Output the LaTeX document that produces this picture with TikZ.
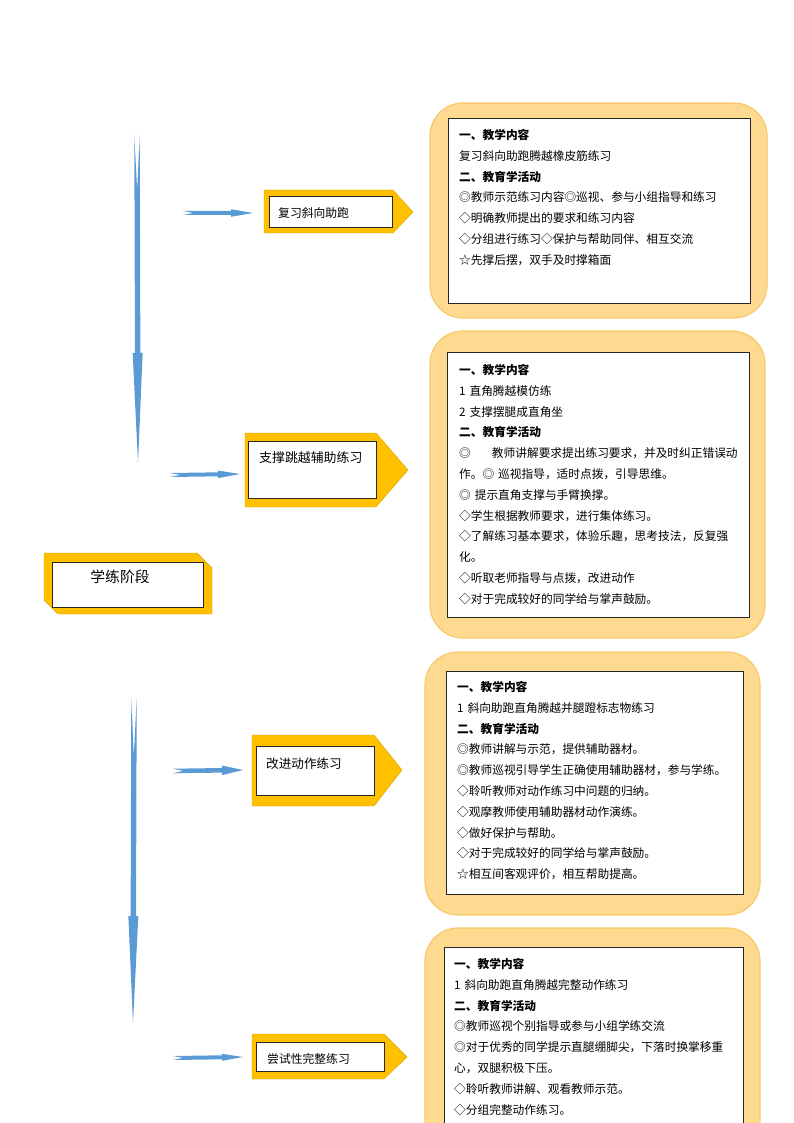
\documentclass[tikz,border=0pt]{standalone}
\usepackage{fontspec}
\setmainfont{Noto Sans CJK SC}
\usetikzlibrary{calc}

\definecolor{arrowblue}{HTML}{5B9BD5}
\definecolor{gold}{HTML}{FFC000}
\definecolor{paleorange}{HTML}{FDDA90}
\definecolor{orangeedge}{HTML}{F8C86A}

\newcommand\slimarrow[6]{%
  \coordinate (#1-h) at ($(#2)!#5!(#1)$);
  \fill[arrowblue] ($(#1)!#6!(#2)$) -- ($(#1)!#3!90:(#2)$) -- ($(#1-h)!#3!90:(#2)$)
    -- ($(#1-h)!#4!90:(#2)$) -- (#2) -- ($(#1-h)!#4!-90:(#2)$)
    -- ($(#1-h)!#3!-90:(#2)$) -- ($(#1)!#3!-90:(#2)$) -- cycle;
}

\begin{document}
\begin{tikzpicture}[x=1pt,y=-1pt,
  roundbox/.style={draw=orangeedge,line width=1.2pt,fill=paleorange,rounded corners=33pt,inner sep=0},
  whitebox/.style={draw=black!85,line width=0.8pt,fill=white,inner sep=0},
  goldshape/.style={fill=gold,draw=gold!85!black,line width=0.4pt},
  bodytext/.style={anchor=base west,text width=300pt,align=left,inner sep=0,font=\fontsize{11.7}{20.8}\selectfont},
  labeltext/.style={anchor=west,inner sep=0}]
 \useasboundingbox (0,0) rectangle (794,1123);
 \clip (0,0) rectangle (794,1123);

 \coordinate (v1a) at (137,135);
 \coordinate (v1b) at (138,463);
 \coordinate (v2a) at (134,697);
 \coordinate (v2b) at (133,1023);
 \slimarrow{v1a}{v1b}{2.7pt}{5pt}{110pt}{55pt}
 \slimarrow{v2a}{v2b}{2.7pt}{5pt}{107pt}{60pt}

 \draw[goldshape](44,553)--(197,553)--(212,568)--(212,614)--(58,614)--(44,600)--cycle;
 \node[whitebox,minimum width=151pt,minimum height=45pt] (stagebox) at (127.5,584.5) {};
 \node[inner sep=0,font=\fontsize{14.8}{16}\selectfont] (stage) at (120,577) {学练阶段};

 \coordinate (h1a) at (183,213);
 \coordinate (h1b) at (253,213);
 \coordinate (h2a) at (170,475);
 \coordinate (h2b) at (240,474);
 \coordinate (h3a) at (173,771);
 \coordinate (h3b) at (243,770);
 \coordinate (h4a) at (173,1058);
 \coordinate (h4b) at (243,1057);
 \slimarrow{h1a}{h1b}{2pt}{3.8pt}{22pt}{10pt}
 \slimarrow{h2a}{h2b}{2pt}{3.8pt}{22pt}{10pt}
 \slimarrow{h3a}{h3b}{2.3pt}{4.8pt}{21pt}{10pt}
 \slimarrow{h4a}{h4b}{2pt}{3.5pt}{21pt}{10pt}

 \draw[goldshape](264,190)--(393,190)--(413,212)--(393,233)--(264,233)--cycle;
 \node[whitebox,minimum width=123pt,minimum height=31pt] (step1) at (330.5,211.5) {};
 \node[labeltext,font=\fontsize{11.8}{14}\selectfont] (step1txt) at (278,213) {复习斜向助跑};

 \draw[goldshape](245,433)--(376,433)--(408,470)--(376,507)--(245,507)--cycle;
 \node[whitebox,minimum width=128pt,minimum height=57pt] (step2) at (312,469.5) {};
 \node[labeltext,font=\fontsize{12.9}{15}\selectfont] (step2txt) at (259,458) {支撑跳越辅助练习};

 \draw[goldshape](252,735)--(374,735)--(402,770)--(374,806)--(252,806)--cycle;
 \node[whitebox,minimum width=118pt,minimum height=49pt] (step3) at (315,770.5) {};
 \node[labeltext,font=\fontsize{12.6}{15}\selectfont] (step3txt) at (266,764) {改进动作练习};

 \draw[goldshape](252,1034)--(384,1034)--(407,1057)--(384,1079)--(252,1079)--cycle;
 \node[whitebox,minimum width=128pt,minimum height=29pt] (step4) at (320,1056.5) {};
 \node[labeltext,font=\fontsize{11.8}{14}\selectfont] (step4txt) at (267,1059) {尝试性完整练习};

 \node[roundbox,minimum width=337pt,minimum height=215pt] (r1) at (598.5,210.5) {};
 \node[whitebox,minimum width=302pt,minimum height=185pt] (r1in) at (599,210.5) {};
 \node[bodytext] (r1txt) at (459,139.5) {{\bfseries 一、教学内容}\\复习斜向助跑腾越橡皮筋练习\\{\bfseries 二、教育学活动}\\◎教师示范练习内容◎巡视、参与小组指导和练习\\◇明确教师提出的要求和练习内容\\◇分组进行练习◇保护与帮助同伴、相互交流\\☆先撑后摆，双手及时撑箱面};

 \node[roundbox,minimum width=335pt,minimum height=307pt] (r2) at (597.5,484.5) {};
 \node[whitebox,minimum width=302pt,minimum height=265pt] (r2in) at (598,484.5) {};
 \node[bodytext] (r2txt) at (459,374.5) {{\bfseries 一、教学内容}\\1 直角腾越模仿练\\2 支撑摆腿成直角坐\\{\bfseries 二、教育学活动}\\◎\hspace{1.8em}教师讲解要求提出练习要求，并及时纠正错误动\\作。◎ 巡视指导，适时点拨，引导思维。\\◎ 提示直角支撑与手臂换撑。\\◇学生根据教师要求，进行集体练习。\\◇了解练习基本要求，体验乐趣，思考技法，反复强\\化。\\◇听取老师指导与点拨，改进动作\\◇对于完成较好的同学给与掌声鼓励。};

 \node[roundbox,minimum width=335pt,minimum height=263pt] (r3) at (592.5,783.5) {};
 \node[whitebox,minimum width=297pt,minimum height=223pt] (r3in) at (594.5,782.5) {};
 \node[bodytext] (r3txt) at (457,691.5) {{\bfseries 一、教学内容}\\1 斜向助跑直角腾越并腿蹬标志物练习\\{\bfseries 二、教育学活动}\\◎教师讲解与示范，提供辅助器材。\\◎教师巡视引导学生正确使用辅助器材，参与学练。\\◇聆听教师对动作练习中问题的归纳。\\◇观摩教师使用辅助器材动作演练。\\◇做好保护与帮助。\\◇对于完成较好的同学给与掌声鼓励。\\☆相互间客观评价，相互帮助提高。};

 \node[roundbox,minimum width=335pt,minimum height=252pt] (r4) at (592.5,1054) {};
 \node[whitebox,minimum width=299pt,minimum height=213pt] (r4in) at (593.5,1053.5) {};
 \node[bodytext] (r4txt) at (454,968.5) {{\bfseries 一、教学内容}\\1 斜向助跑直角腾越完整动作练习\\{\bfseries 二、教育学活动}\\◎教师巡视个别指导或参与小组学练交流\\◎对于优秀的同学提示直腿绷脚尖，下落时换掌移重\\心，双腿积极下压。\\◇聆听教师讲解、观看教师示范。\\◇分组完整动作练习。};
\end{tikzpicture}
\end{document}
